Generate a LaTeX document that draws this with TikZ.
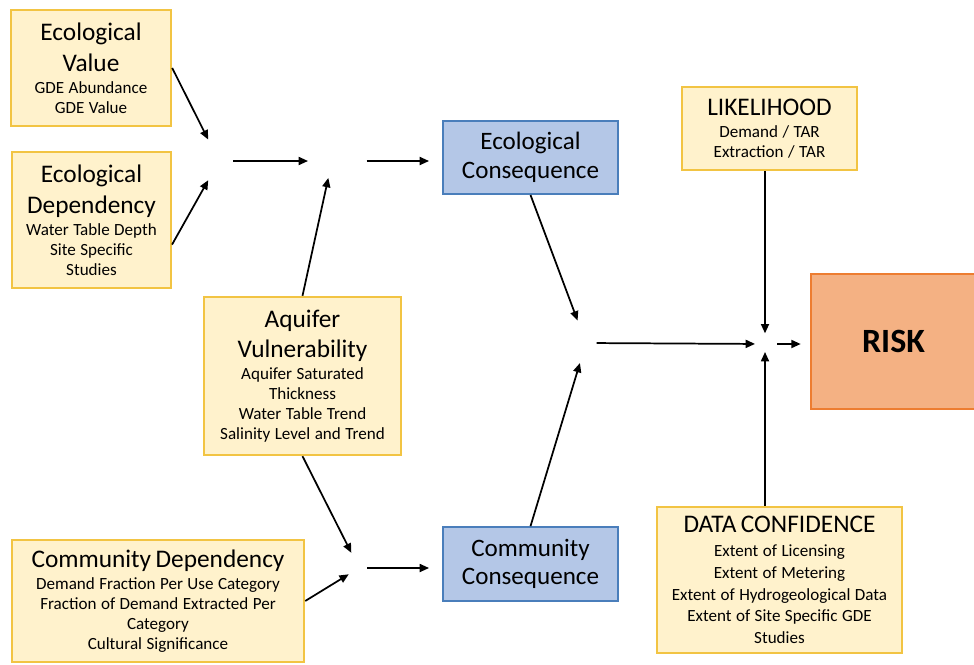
\documentclass[tikz,border=0pt]{standalone}
\usepackage{fontspec}
\setmainfont{Carlito}
\usetikzlibrary{arrows.meta}

\definecolor{factorfill}{HTML}{FFF2CC}
\definecolor{factorline}{HTML}{F2C443}
\definecolor{conseqfill}{HTML}{B4C7E7}
\definecolor{conseqline}{HTML}{4A7EBB}
\definecolor{riskfill}{HTML}{F4B183}
\definecolor{riskline}{HTML}{ED7D31}

\newcommand{\headfont}{\fontsize{19}{23}\selectfont}
\newcommand{\subfont}{\fontsize{12.8}{15}\selectfont}
\newcommand{\factortext}[2]{{\headfont #1\par}\vskip 1.5pt{\subfont #2\par}}

\tikzset{
    factor/.style={draw=factorline, fill=factorfill, line width=1.8pt, align=center, inner sep=2pt},
    conseq/.style={draw=conseqline, fill=conseqfill, line width=1.2pt, align=center, inner sep=2pt,
        minimum width=131pt, text width=125pt, font=\fontsize{18.8}{21.5}\selectfont},
    riskbox/.style={draw=riskline, fill=riskfill, line width=1.2pt, font=\fontsize{25.5}{30}\selectfont\bfseries},
    arr/.style={line width=1.3pt, -{Triangle[length=7pt,width=6pt]}}
}

\begin{document}
\begin{tikzpicture}[x=0.75pt,y=-0.75pt]
    \useasboundingbox (0,0) rectangle (974,664);

    % factor boxes
    \node[factor, minimum width=120pt, minimum height=87pt, text width=116pt] (ecoval) at (91,68)
        {\factortext{Ecological\\Value}{GDE Abundance\\GDE Value}};
    \node[factor, minimum width=119pt, minimum height=102pt, text width=115pt] (ecodep) at (91.5,220)
        {\factortext{Ecological\\Dependency}{Water Table Depth\\Site Specific\\Studies}};
    \node[factor, minimum width=148pt, minimum height=118.5pt, text width=144pt] (aquifer) at (302.5,376)
        {\factortext{Aquifer\\Vulnerability}{Aquifer Saturated\\Thickness\\Water Table Trend\\Salinity Level and Trend}};
    \node[factor, minimum width=219pt, minimum height=91.5pt, text width=215pt] (comdep) at (158,601)
        {\factortext{Community Dependency}{Demand Fraction Per Use Category\\Fraction of Demand Extracted Per\\Category\\Cultural Significance}};
    \node[factor, minimum width=131pt, minimum height=62pt, text width=127pt] (likely) at (769.5,128.5)
        {\factortext{LIKELIHOOD}{Demand / TAR\\Extraction / TAR}};
    \node[factor, minimum width=184pt, minimum height=109.5pt, text width=180pt] (datacon) at (779.5,580)
        {{\headfont DATA CONFIDENCE\par}\vskip 1.5pt{\fontsize{12.8}{16.3}\selectfont Extent of Licensing\\Extent of Metering\\Extent of Hydrogeological Data\\Extent of Site Specific GDE\\Studies\par}};

    % consequences and risk
    \node[conseq, minimum height=55pt] (ecocon) at (530.5,157.5) {Ecological\\Consequence};
    \node[conseq, minimum height=55.5pt] (comcon) at (530.5,564) {Community\\Consequence};
    \node[riskbox, minimum width=124pt, minimum height=101pt] (risk) at (893.5,341.5) {RISK};

    % junctions
    \coordinate (jEco) at (219,161);
    \coordinate (jVul) at (332,161);
    \coordinate (jCom) at (359,568);
    \coordinate (jCon) at (586,343);
    \coordinate (jRisk) at (765,344);

    \draw[arr, shorten >=18pt] (ecoval.east) -- (jEco);
    \draw[arr, shorten >=16.5pt] (ecodep.-17.5) -- (jEco);
    \draw[arr, shorten <=10.5pt, shorten >=18pt] (jEco) -- (jVul);
    \draw[arr, shorten >=13pt] (aquifer.north) -- (jVul);
    \draw[arr, shorten <=26pt, shorten >=10pt] (jVul) -- (ecocon.west |- jVul);
    \draw[arr, shorten >=12.75pt] (aquifer.south) -- (jCom);
    \draw[arr, shorten >=9pt] (comdep.east) -- (jCom);
    \draw[arr, shorten <=6pt, shorten >=10pt] (jCom) -- (comcon.west |- jCom);
    \draw[arr, shorten >=18pt] (ecocon.south) -- (jCon);
    \draw[arr, shorten >=15.7pt] (comcon.north) -- (jCon);
    \draw[arr, shorten <=8pt, shorten >=7.5pt] (jCon) -- (jRisk);
    \draw[arr, shorten >=8pt] (likely.south -| jRisk) -- (jRisk);
    \draw[arr, shorten >=6pt] (datacon.north -| jRisk) -- (jRisk);
    \draw[arr, shorten <=9pt, shorten >=7pt] (jRisk) -- (risk.west |- jRisk);
\end{tikzpicture}
\end{document}
